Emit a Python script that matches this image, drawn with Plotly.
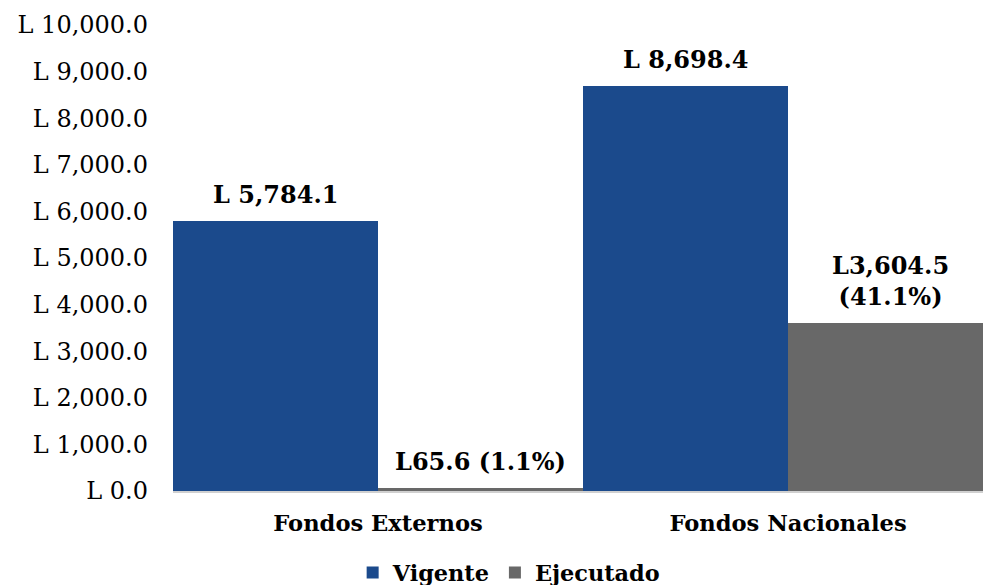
import plotly.graph_objects as go

categories = ["Fondos Externos", "Fondos Nacionales"]
vigente = [5784.1, 8698.4]
ejecutado = [65.6, 3604.5]
ejecutado_pct = [1.1, 41.1]
series_names = ["Vigente", "Ejecutado"]

FONT = "Georgia, 'DejaVu Serif', serif"
BLUE = "#1B4A8C"
GRAY = "#686868"

vig_text = [f"<b>L {v:,.1f}</b>" for v in vigente]
eje_text = [
    f"<b>L{ejecutado[0]:,.1f} ({ejecutado_pct[0]:.1f}%)</b>",
    f"<b>L{ejecutado[1]:,.1f}<br>({ejecutado_pct[1]:.1f}%)</b>",
]

fig = go.Figure()
fig.add_trace(go.Bar(
    x=categories, y=vigente, name=f"<b>{series_names[0]}</b>",
    marker=dict(color=BLUE, line=dict(width=0)),
))
fig.add_trace(go.Bar(
    x=categories, y=ejecutado, name=f"<b>{series_names[1]}</b>",
    marker=dict(color=GRAY, line=dict(width=0)),
))

# value labels above each bar (grouped bars sit at category index -/+ 0.25)
for i in range(len(categories)):
    for offset, val, txt in ((-0.25, vigente[i], vig_text[i]),
                             (0.25, ejecutado[i], eje_text[i])):
        fig.add_annotation(
            x=i + offset, y=val, xref="x", yref="y",
            text=txt, showarrow=False, yanchor="bottom", yshift=10,
            font=dict(family=FONT, size=24, color="black"),
        )

fig.update_layout(
    width=983, height=585,
    margin=dict(l=173, r=0, t=25, b=94, autoexpand=False),
    barmode="group", bargap=0, bargroupgap=0,
    paper_bgcolor="white", plot_bgcolor="white",
    font=dict(family=FONT, color="black"),
    showlegend=True,
    legend=dict(orientation="h", x=0.415, xanchor="center", xref="paper",
                y=-0.176, yanchor="middle",
                font=dict(family=FONT, size=22.4, color="black"),
                itemwidth=30, traceorder="normal"),
)
fig.update_xaxes(
    range=[-0.5, 1.4756], showgrid=False, showline=True,
    linecolor="#D0D0D0", linewidth=2, ticks="",
    tickfont=dict(family=FONT, size=22.6, color="black"),
    ticktext=[f"<b>{c}</b>" for c in categories], tickvals=categories,
    ticklabelstandoff=11,
)
fig.update_yaxes(
    range=[0, 10000], dtick=1000, showgrid=False, zeroline=False,
    tickprefix="L ", tickformat=",.1f", ticks="",
    tickfont=dict(family=FONT, size=24, color="black"),
    ticklabelstandoff=24,
)

fig.write_html(
    "out.html",
    config={"displayModeBar": False},
    post_script="document.body.style.margin='0';document.body.style.overflow='hidden';",
)
